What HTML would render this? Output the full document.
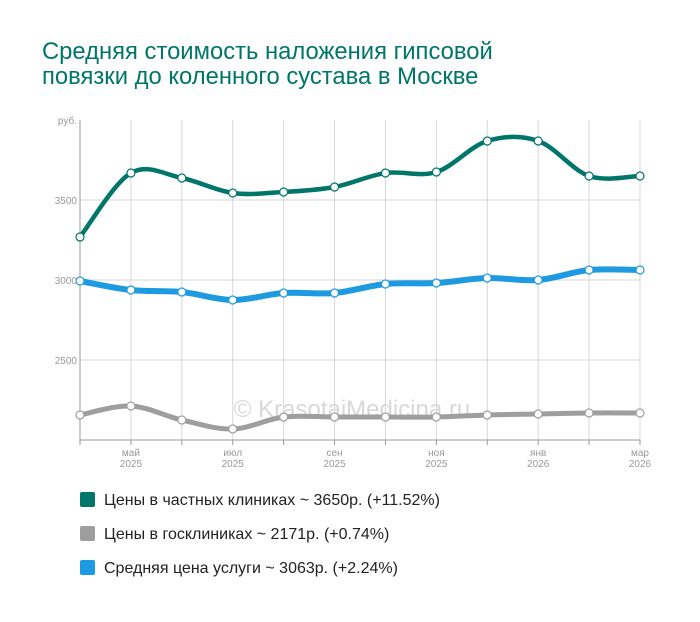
<!DOCTYPE html>
<html><head><meta charset="utf-8"><style>
body{margin:0;background:#fff;width:700px;height:617px;overflow:hidden;font-family:"Liberation Sans",sans-serif}
</style></head><body>
<svg id="s" width="700" height="617" xmlns="http://www.w3.org/2000/svg" font-family="Liberation Sans, sans-serif">
<text x="42" y="59" font-size="23.8" fill="#00766a">Средняя стоимость наложения гипсовой</text>
<text x="42" y="84" font-size="23.8" fill="#00766a">повязки до коленного сустава в Москве</text>
<g stroke="#d6d6d6" stroke-width="1" id="grid"></g>
<g font-size="10" fill="#999">
<text x="77" y="124" text-anchor="end">руб.</text>
<text x="77" y="204" text-anchor="end">3500</text>
<text x="77" y="284" text-anchor="end">3000</text>
<text x="77" y="364" text-anchor="end">2500</text>
</g>
<g font-size="10" fill="#999" text-anchor="middle" id="xl"></g>
<line x1="80" y1="120" x2="80" y2="440" stroke="#999"/>
<line x1="80" y1="440" x2="640" y2="440" stroke="#999"/>
<text x="352" y="417" font-size="24" fill="#d8d8d8" text-anchor="middle">© KrasotaiMedicina.ru</text>
<g id="lines"></g>
<rect x="80" y="492" width="15" height="15" rx="2" fill="#00766a"/>
<text x="104" y="505" font-size="16" fill="#222">Цены в частных клиниках ~ 3650р. (+11.52%)</text>
<rect x="80" y="526" width="15" height="15" rx="2" fill="#9e9e9e"/>
<text x="104" y="539" font-size="16" fill="#222">Цены в госклиниках ~ 2171р. (+0.74%)</text>
<rect x="80" y="560" width="15" height="15" rx="2" fill="#1e9be0"/>
<text x="104" y="573" font-size="16" fill="#222">Средняя цена услуги ~ 3063р. (+2.24%)</text>
</svg>
<script>
var NS="http://www.w3.org/2000/svg";
function el(t,a,p){var e=document.createElementNS(NS,t);for(var k in a)e.setAttribute(k,a[k]);p.appendChild(e);return e;}
var X=[];for(var i=0;i<12;i++)X.push(80+i*560/11);
var g=document.getElementById('grid');
X.forEach(function(x,i){if(i>0)el('line',{x1:x,y1:120,x2:x,y2:440},g);});
[200,280,360].forEach(function(y){el('line',{x1:80,y1:y,x2:640,y2:y},g);});
var xl=document.getElementById('xl');
var labs={1:['май','2025'],3:['июл','2025'],5:['сен','2025'],7:['ноя','2025'],9:['янв','2026'],11:['мар','2026']};
X.forEach(function(x,i){el('line',{x1:x,y1:440,x2:x,y2:445,stroke:'#999'},xl);
 if(labs[i]){var t=el('text',{x:x,y:456},xl);t.textContent=labs[i][0];var t2=el('text',{x:x,y:467},xl);t2.textContent=labs[i][1];}});
var series=[
 {c:'#9e9e9e',w:5,y:[415,406,420,429,417,417,417,417,415,414,413,413]},
 {c:'#1e9be0',w:6,y:[281,290,292,300,293,293,284,283,278,280,270,270]},
 {c:'#00766a',w:4.5,y:[237,173,178,193,192,187,173,172,141,141,176,176]}];
var L=document.getElementById('lines');
series.forEach(function(s){
 var P=X.map(function(x,i){return [x,s.y[i]];});
 var d='M'+P[0][0]+','+P[0][1];
 for(var i=0;i<P.length-1;i++){
  var p0=P[i-1]||P[i],p1=P[i],p2=P[i+1],p3=P[i+2]||P[i+1];
  var c1=[p1[0]+(p2[0]-p0[0])/6,p1[1]+(p2[1]-p0[1])/6];
  var c2=[p2[0]-(p3[0]-p1[0])/6,p2[1]-(p3[1]-p1[1])/6];
  d+=' C'+c1+' '+c2+' '+p2;
 }
 el('path',{d:d,fill:'none',stroke:s.c,'stroke-width':s.w,'stroke-linecap':'round'},L);
 P.forEach(function(p){el('circle',{cx:p[0],cy:p[1],r:4,fill:'#fff',stroke:s.c,'stroke-width':1.2},L);});
});
</script>
</body></html>
